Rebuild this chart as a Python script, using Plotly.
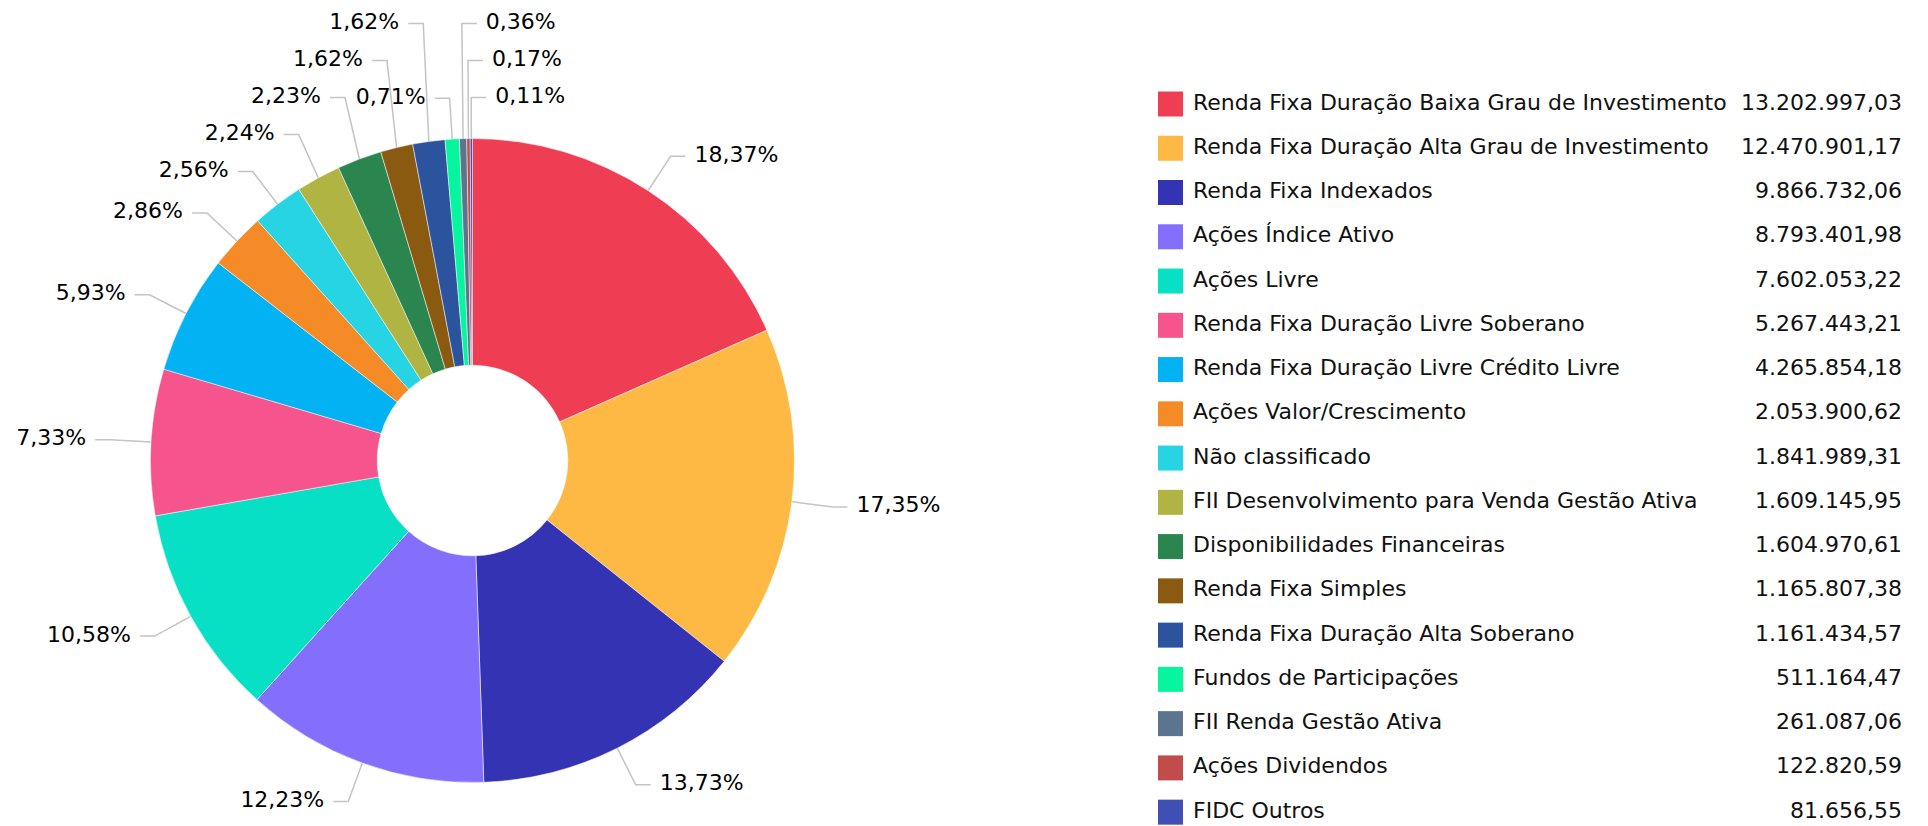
import math
import plotly.graph_objects as go

categories = [
    "Renda Fixa Duração Baixa Grau de Investimento",
    "Renda Fixa Duração Alta Grau de Investimento",
    "Renda Fixa Indexados",
    "Ações Índice Ativo",
    "Ações Livre",
    "Renda Fixa Duração Livre Soberano",
    "Renda Fixa Duração Livre Crédito Livre",
    "Ações Valor/Crescimento",
    "Não classificado",
    "FII Desenvolvimento para Venda Gestão Ativa",
    "Disponibilidades Financeiras",
    "Renda Fixa Simples",
    "Renda Fixa Duração Alta Soberano",
    "Fundos de Participações",
    "FII Renda Gestão Ativa",
    "Ações Dividendos",
    "FIDC Outros",
]
values = [
    13202997.03, 12470901.17, 9866732.06, 8793401.98, 7602053.22,
    5267443.21, 4265854.18, 2053900.62, 1841989.31, 1609145.95,
    1604970.61, 1165807.38, 1161434.57, 511164.47, 261087.06,
    122820.59, 81656.55,
]
colors = [
    "#EF3E54", "#FEB944", "#3333B4", "#836FFB", "#08E0C5",
    "#F6548C", "#02B2F2", "#F58B26", "#26D4E3", "#AFB443",
    "#2B854F", "#8B5A11", "#2C549E", "#06F59E", "#5B7590",
    "#C24B4B", "#3F4FB4",
]

W, H = 1928, 826
FONT = "DejaVu Sans"
FS = 22
OFF = 8  # page body margin (screen px = figure px + OFF)

# ---- pie geometry (screen pixels) ----
CX, CY, R = 472.5, 460.5, 322
HOLE = 0.296
pie_dom_x = [(CX - OFF - R) / W, (CX - OFF + R) / W]
pie_dom_y = [1 - (CY - OFF + R) / H, 1 - (CY - OFF - R) / H]

# ---- data label layout (derived from the values) ----
LABEL_R = R + 41      # radius of the natural label point
HSEG = 15             # horizontal connector segment
PAD = 9               # gap between connector and text
SPACING = 37          # min vertical spacing of labels
XPAD = 10             # horizontal padding of label boxes for collision test
CHAR_W = {",": 651, ".": 651, "%": 1946}


def text_width(s):
    return sum(CHAR_W.get(c, 1303) for c in s) / 2048 * FS


total = sum(values)
labs = []
cum = 0.0
for i, v in enumerate(values):
    frac = v / total
    mid = cum + frac / 2
    cum += frac
    th = 2 * math.pi * mid
    ux, uy = math.sin(th), -math.cos(th)
    side = 1 if ux >= -0.04 else -1
    txt = f"{frac * 100:.2f}".replace(".", ",") + "%"
    nx, ny = CX + LABEL_R * ux, CY + LABEL_R * uy
    tw = text_width(txt)
    tx = nx + side * (HSEG + PAD)
    x0, x1 = (tx, tx + tw) if side > 0 else (tx - tw, tx)
    labs.append(dict(i=i, txt=txt, ux=ux, uy=uy, side=side,
                     bx=CX + R * ux, by=CY + R * uy, nx=nx, ny=ny,
                     tx=tx, x0=x0 - XPAD, x1=x1 + XPAD, y=ny))

placed = []
for l in sorted(labs, key=lambda l: -l["side"] * l["ux"]):
    y = l["ny"]
    dirn = -1 if l["uy"] < 0 else 1
    moved = True
    while moved:
        moved = False
        for p in placed:
            if l["x0"] < p["x1"] and p["x0"] < l["x1"] and abs(y - p["y"]) < SPACING - 0.01:
                y = p["y"] + dirn * SPACING
                moved = True
    l["y"] = y
    placed.append(l)

cx_line, cy_line = [], []
for l in labs:
    cx_line += [l["bx"], l["nx"], l["nx"] + l["side"] * HSEG, None]
    cy_line += [l["by"], l["y"], l["y"], None]

fig = go.Figure()
fig.add_trace(go.Pie(
    labels=categories,
    values=values,
    marker=dict(colors=colors, line=dict(color="white", width=0.5)),
    hole=HOLE,
    sort=False,
    direction="clockwise",
    rotation=0,
    textinfo="none",
    domain=dict(x=pie_dom_x, y=pie_dom_y),
    automargin=False,
    showlegend=False,
))

common = dict(xaxis="x2", yaxis="y2", showlegend=False, hoverinfo="skip", cliponaxis=False)

# connectors
fig.add_trace(go.Scatter(x=cx_line, y=cy_line, mode="lines",
                         line=dict(color="#c4c4c4", width=1.5), **common))
# labels
for side, pos in ((1, "middle right"), (-1, "middle left")):
    g = [l for l in labs if l["side"] == side]
    fig.add_trace(go.Scatter(
        x=[l["tx"] for l in g], y=[l["y"] for l in g], mode="text",
        text=[l["txt"] for l in g], textposition=pos,
        textfont=dict(family=FONT, size=FS, color="#000000"), **common))

# ---- custom legend with values ----
LEG_SQ_X, LEG_TXT_X, LEG_VAL_X = 1170.5, 1193, 1902
ROW0, ROW_STEP = 104, 44.26
row_y = [ROW0 + ROW_STEP * k for k in range(len(categories))]

fig.add_trace(go.Scatter(
    x=[LEG_SQ_X] * len(categories), y=row_y, mode="markers",
    marker=dict(symbol="square", size=25, color=colors, line=dict(width=0)), **common))
fig.add_trace(go.Scatter(
    x=[LEG_TXT_X] * len(categories), y=row_y, mode="text", text=categories,
    textposition="middle right",
    textfont=dict(family=FONT, size=FS, color="#111111"), **common))
fig.add_trace(go.Scatter(
    x=[LEG_VAL_X] * len(categories), y=row_y, mode="text",
    customdata=values, texttemplate="%{customdata:,.2f}",
    textposition="middle left",
    textfont=dict(family=FONT, size=FS, color="#111111"), **common))

fig.update_layout(
    width=W, height=H,
    margin=dict(l=0, r=0, t=0, b=0, autoexpand=False),
    paper_bgcolor="white", plot_bgcolor="rgba(0,0,0,0)",
    separators=",.",
    font=dict(family=FONT, size=FS, color="#000000"),
    xaxis2=dict(domain=[0, 1], range=[OFF, OFF + W], visible=False,
                anchor="y2", fixedrange=True),
    yaxis2=dict(domain=[0, 1], range=[OFF + H, OFF], visible=False,
                anchor="x2", fixedrange=True),
    showlegend=False,
)

fig.write_html("out.html")
